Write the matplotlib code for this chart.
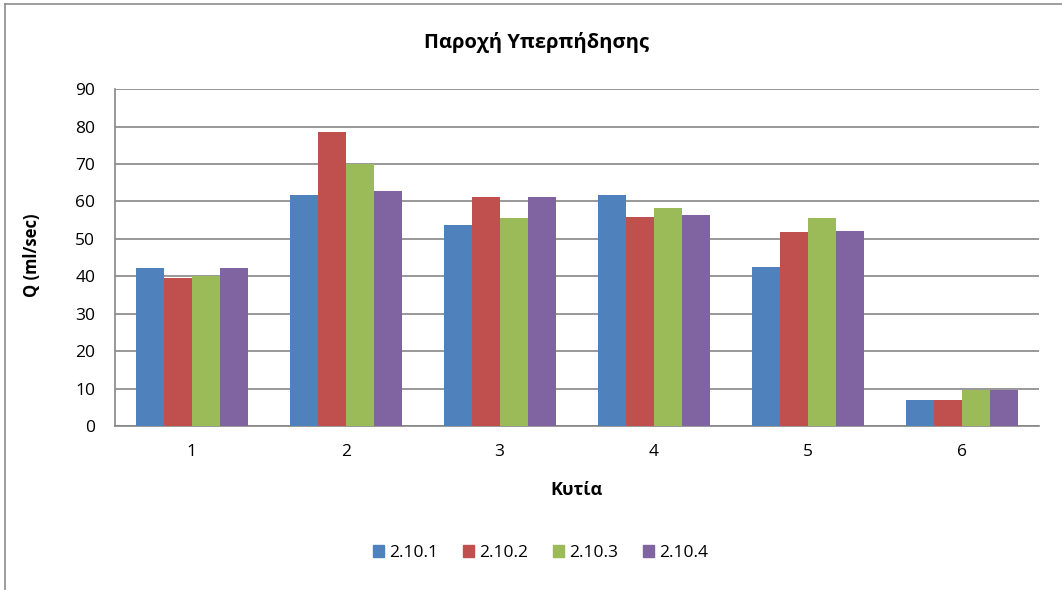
import numpy as np
import matplotlib
matplotlib.use("Agg")
import matplotlib.pyplot as plt
from matplotlib.lines import Line2D

plt.rcParams['font.family'] = ['Open Sans', 'DejaVu Sans']

categories = ["1", "2", "3", "4", "5", "6"]
series_names = ["2.10.1", "2.10.2", "2.10.3", "2.10.4"]
s1 = [42.1, 61.6, 53.6, 61.6, 42.5, 6.9]
s2 = [39.4, 78.5, 61.2, 55.9, 51.8, 6.9]
s3 = [40.1, 70.0, 55.6, 58.2, 55.6, 9.6]
s4 = [42.1, 62.8, 61.2, 56.3, 52.1, 9.6]
series = [s1, s2, s3, s4]
colors = ["#4F81BD", "#C0504D", "#9BBB59", "#8064A2"]

fig = plt.figure(figsize=(10.62, 5.90), dpi=100)
ax = fig.add_axes([0.108, 0.278, 0.870, 0.571])

x = np.arange(len(categories))
width = 0.182
for i, (vals, col, name) in enumerate(zip(series, colors, series_names)):
    ax.bar(x + (i - 1.5) * width, vals, width, color=col, label=name,
           zorder=3, linewidth=0)

ax.set_xlim(-0.5, len(categories) - 0.5)
ax.set_ylim(0, 90)
ax.set_yticks(np.arange(0, 91, 10))
ax.set_xticks(x)
ax.set_xticklabels(categories)

grid_col = "#868686"
ax.yaxis.grid(True, color=grid_col, linewidth=1.2, zorder=0)
ax.set_axisbelow(True)
for side in ["top", "right"]:
    ax.spines[side].set_visible(False)
ax.spines["left"].set_color(grid_col)
ax.spines["bottom"].set_color(grid_col)
ax.spines["left"].set_linewidth(1.2)
ax.spines["bottom"].set_linewidth(1.2)
ax.tick_params(axis="both", length=0, labelsize=12.5, colors="black")
ax.tick_params(axis="y", pad=14)
ax.tick_params(axis="x", pad=13)

fig.text(0.505, 0.928, "Παροχή Υπερπήδησης", ha="center", va="center",
         fontsize=14.5, fontweight="bold")
fig.text(0.030, 0.567, "Q (ml/sec)", ha="center", va="center",
         rotation=90, fontsize=12, fontweight="bold")
fig.text(0.543, 0.170, "Κυτία", ha="center", va="center",
         fontsize=13, fontweight="bold")

handles = [plt.Rectangle((0, 0), 1, 1, color=c) for c in colors]
fig.legend(handles, series_names, loc="center", bbox_to_anchor=(0.509, 0.063),
           ncol=4, frameon=False, fontsize=12.5, handlelength=0.65,
           handleheight=0.65, handletextpad=0.3, columnspacing=1.4)

# chart frame (left and top edges)
fig.add_artist(Line2D([0.005, 0.005], [0.0, 0.993], transform=fig.transFigure,
                      color="#8c8c8c", linewidth=1.2))
fig.add_artist(Line2D([0.005, 1.0], [0.993, 0.993], transform=fig.transFigure,
                      color="#8c8c8c", linewidth=1.2))

fig.savefig("out.png", dpi=100)
